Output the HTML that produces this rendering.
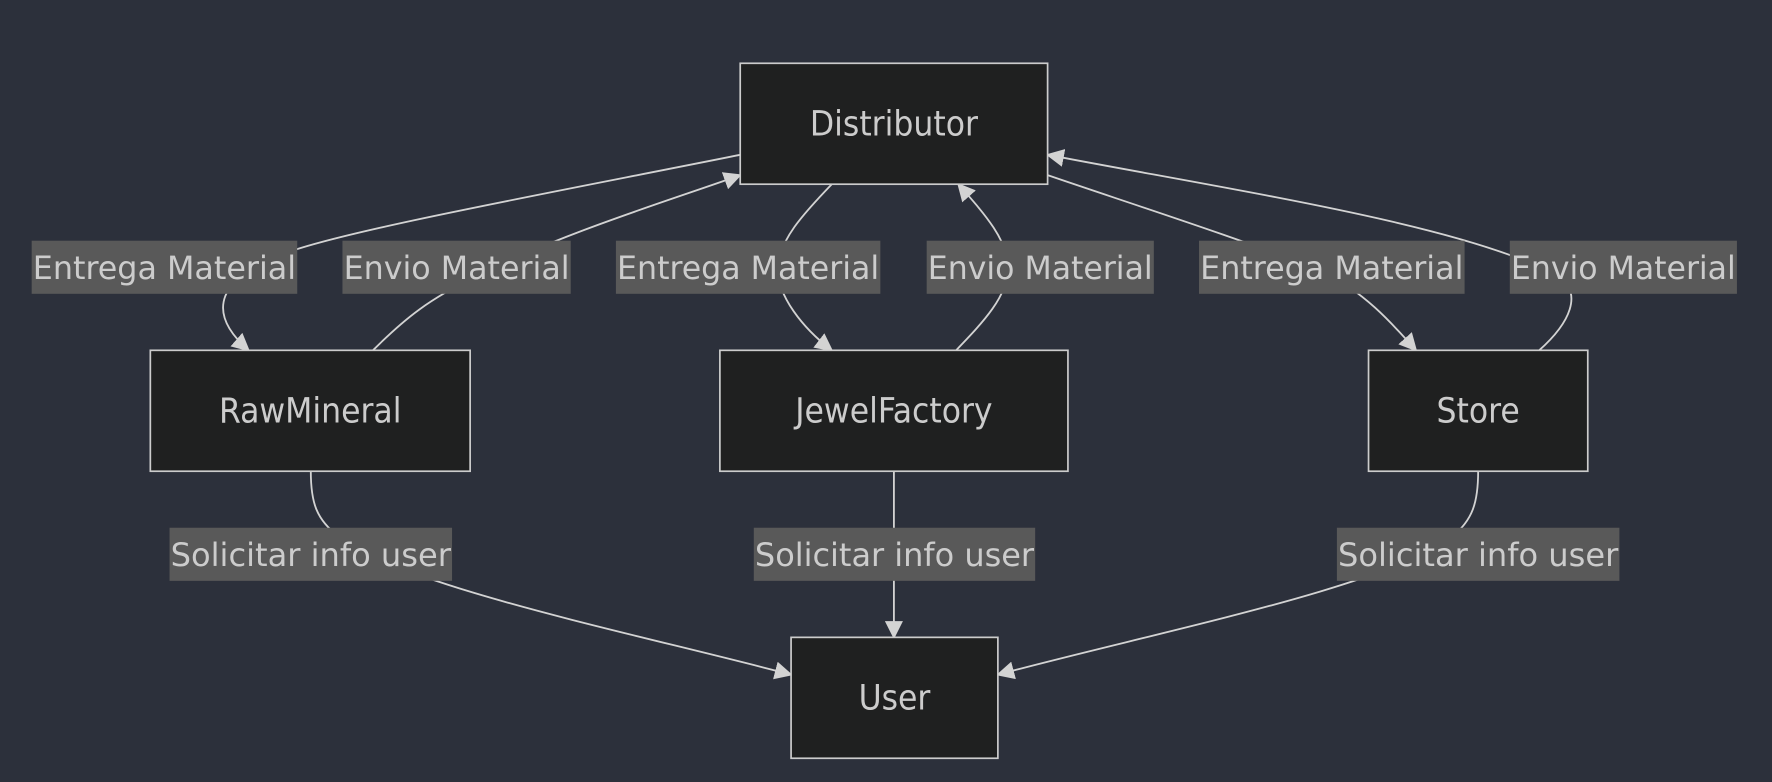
<!DOCTYPE html>
<html><head><meta charset="utf-8"><style>
html,body{margin:0;padding:0;background:#2c303b;}
svg{display:block;}
text{font-family:"DejaVu Sans Condensed","Liberation Sans Narrow","Liberation Sans",sans-serif;fill:#cccccc;}
</style></head><body>
<svg width="1772" height="782" viewBox="0 0 1568 692" xmlns="http://www.w3.org/2000/svg">
<defs>
<marker id="b" viewBox="0 0 10 10" refX="9" refY="5" markerWidth="16" markerHeight="16" markerUnits="userSpaceOnUse" orient="auto">
<path d="M0,0 L10,5 L0,10 z" fill="#d3d3d3"/>
</marker>
</defs>
<rect width="1568" height="692" fill="#2c303b"/>
<g fill="none" stroke="#d3d3d3" stroke-width="1.6">
<path d="M655,137 C480,172 300,205 250,225 C195,245 180,275 220,310" marker-end="url(#b)"/>
<path d="M330,310 C360,280 380,265 420,245 C500,205 600,175 655,155" marker-end="url(#b)"/>
<path d="M736,163 C710,190 690,212 688,237 C688,262 710,290 736,310" marker-end="url(#b)"/>
<path d="M846,310 C870,285 892,262 892,237 C892,212 870,188 848,163" marker-end="url(#b)"/>
<path d="M927,155 C1000,180 1100,212 1170,240 C1210,260 1235,290 1253,310" marker-end="url(#b)"/>
<path d="M1362,310 C1390,285 1400,260 1380,245 C1300,200 1100,170 927,137" marker-end="url(#b)"/>
<path d="M275,417 C275,445 280,460 300,475 C360,520 560,560 700,597" marker-end="url(#b)"/>
<path d="M791,417 L791,564" marker-end="url(#b)"/>
<path d="M1308,417 C1308,445 1303,460 1285,475 C1225,520 1020,560 883,597" marker-end="url(#b)"/>
</g>
<g fill="#1f2020" stroke="#cccccc" stroke-width="1.5">
<rect x="655" y="56" width="272" height="107"/>
<rect x="133" y="310" width="283" height="107"/>
<rect x="637" y="310" width="308" height="107"/>
<rect x="1211" y="310" width="194" height="107"/>
<rect x="700" y="564" width="183" height="107"/>
</g>
<g font-size="31" text-anchor="middle">
<text x="791" y="120">Distributor</text>
<text x="274.5" y="374">RawMineral</text>
<text x="791" y="374">JewelFactory</text>
<text x="1308" y="374">Store</text>
<text x="791.5" y="628">User</text>
</g>
<g fill="#595959">
<rect x="28" y="213" width="235" height="47"/>
<rect x="303" y="213" width="202" height="47"/>
<rect x="545" y="213" width="234" height="47"/>
<rect x="820" y="213" width="201" height="47"/>
<rect x="1061" y="213" width="235" height="47"/>
<rect x="1336" y="213" width="201" height="47"/>
<rect x="150" y="467" width="250" height="47"/>
<rect x="667" y="467" width="249" height="47"/>
<rect x="1183" y="467" width="250" height="47"/>
</g>
<g font-size="28">
<text x="29" y="247" textLength="233" lengthAdjust="spacingAndGlyphs">Entrega Material</text>
<text x="304" y="247" textLength="200" lengthAdjust="spacingAndGlyphs">Envio Material</text>
<text x="546" y="247" textLength="232" lengthAdjust="spacingAndGlyphs">Entrega Material</text>
<text x="821" y="247" textLength="199" lengthAdjust="spacingAndGlyphs">Envio Material</text>
<text x="1062" y="247" textLength="233" lengthAdjust="spacingAndGlyphs">Entrega Material</text>
<text x="1337" y="247" textLength="199" lengthAdjust="spacingAndGlyphs">Envio Material</text>
<text x="151" y="501" textLength="248" lengthAdjust="spacingAndGlyphs">Solicitar info user</text>
<text x="668" y="501" textLength="247" lengthAdjust="spacingAndGlyphs">Solicitar info user</text>
<text x="1184" y="501" textLength="248" lengthAdjust="spacingAndGlyphs">Solicitar info user</text>
</g>
</svg>
</body></html>
